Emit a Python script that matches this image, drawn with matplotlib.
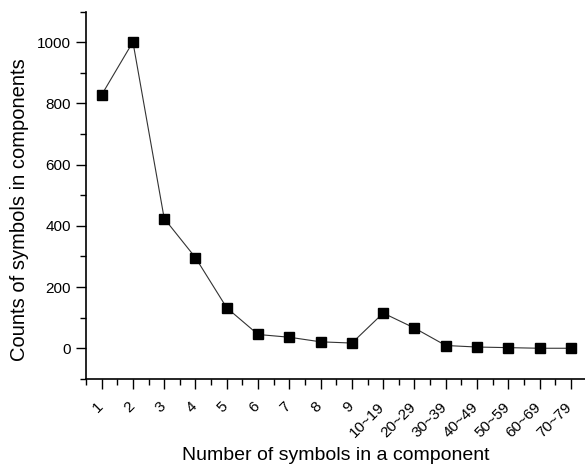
import numpy as np
import matplotlib
matplotlib.use('Agg')
import matplotlib.pyplot as plt
import matplotlib.transforms as mtrans
from matplotlib.ticker import MultipleLocator

plt.rcParams['font.family'] = ['Liberation Sans', 'DejaVu Sans']

# data
categories = ['1', '2', '3', '4', '5', '6', '7', '8', '9',
              '10~19', '20~29', '30~39', '40~49', '50~59', '60~69', '70~79']
counts = [828, 1001, 424, 296, 132, 45, 36, 21, 17,
          115, 66, 9, 4, 2, 0, 0]

x = np.arange(1, len(categories) + 1)

fig = plt.figure(figsize=(5.85, 4.66), dpi=100)
ax = fig.add_axes([0.147, 0.187, 0.853, 0.788])

ax.plot(x, counts, color='#333333', linewidth=0.8, marker='s',
        markersize=6.5, markerfacecolor='black', markeredgecolor='black')

# Formatting
ax.spines['top'].set_visible(False)
ax.spines['right'].set_visible(False)
ax.set_xlim(0.5, 16.45)
ax.set_ylim(-100, 1100)
ax.set_xticks(x)
ax.set_xticklabels(categories, rotation=45, ha='right')
ax.xaxis.set_minor_locator(MultipleLocator(0.5))
ax.yaxis.set_major_locator(MultipleLocator(200))
ax.yaxis.set_minor_locator(MultipleLocator(100))
ax.tick_params(which='major', direction='out', length=7, width=1, labelsize=11)
ax.tick_params(which='minor', direction='out', length=4, width=1)
ax.tick_params(axis='x', pad=8)
ax.tick_params(axis='y', pad=4)
for s in ['left', 'bottom']:
    ax.spines[s].set_linewidth(1.2)

# nudge the rotated labels so they sit under their ticks
shift = mtrans.ScaledTranslation(4 / 100, 0, fig.dpi_scale_trans)
for lab in ax.get_xticklabels():
    lab.set_transform(lab.get_transform() + shift)

ax.set_xlabel('Number of symbols in a component', fontsize=14, labelpad=5)
ax.set_ylabel('Counts of symbols in components', fontsize=14.5, labelpad=8)
ax.yaxis.set_label_coords(-0.115, 0.46)

fig.savefig('out.png', dpi=100)
